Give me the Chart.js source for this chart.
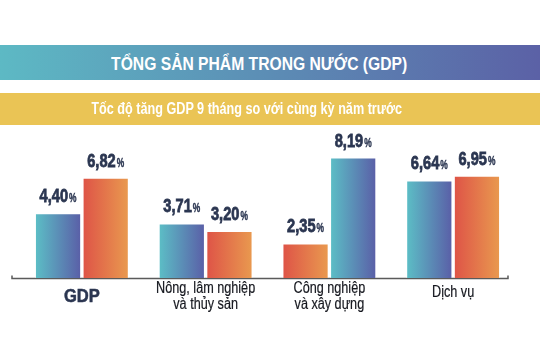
<!DOCTYPE html>
<html>
<head>
<meta charset="utf-8">
<script src="https://cdn.jsdelivr.net/npm/chart.js@4"></script>
<style>
  body { margin: 0; width: 540px; height: 360px; background: #fff; position: relative; overflow: hidden; }
  .banner { position: absolute; left: 0; width: 540px; color: #fff; display: flex; align-items: center; justify-content: center; z-index: 2;
            font-family: 'Liberation Sans', Arial, sans-serif; font-weight: bold; box-sizing: border-box; }
  .banner span { display: inline-block; white-space: nowrap; }
  #title { top: 45px; height: 35px; background: linear-gradient(90deg, #5db9c4, #5b61a6); font-size: 18px; padding-top: 3px; padding-right: 22px; }
  #title span { transform: scaleX(0.87); }
  #subtitle { top: 93px; height: 32px; background: #eac455; font-size: 16px; padding-right: 46px; }
  #subtitle span { transform: scaleX(0.79); }
  canvas { position: absolute; left: 0; top: 0; }
</style>
</head>
<body>
<div id="title" class="banner"><span>TỔNG SẢN PHẨM TRONG NƯỚC (GDP)</span></div>
<div id="subtitle" class="banner"><span>Tốc độ tăng GDP 9 tháng so với cùng kỳ năm trước</span></div>
<canvas id="gdpChart" width="540" height="360"></canvas>
<script>
// du lieu
const categories = [['GDP'], ['Nông, lâm nghiệp', 'và thủy sản'], ['Công nghiệp', 'và xây dựng'], ['Dịch vụ']];
const firstBar = [4.40, 3.71, 2.35, 6.64];
const secondBar = [6.82, 3.20, 8.19, 6.95];
// kieu mau cho tung cot
const firstStyle = ['blue', 'blue', 'orange', 'blue'];
const secondStyle = ['orange', 'orange', 'blue', 'orange'];

const FONT = "'Liberation Sans', Arial, sans-serif";
const gradients = {
    blue: ['#5cbfc6', '#5a5ea7'],
    orange: ['#de5347', '#e99a4f']
};
const CAT_PCT = 0.77;
const BAR_PCT = 0.97;

function barGradient(styles) {
    return (context) => {
        const chart = context.chart;
        const xs = chart.scales.x;
        const colors = gradients[styles[context.dataIndex]];
        if (!chart.chartArea || !xs || context.dataIndex === undefined) return colors[0];
        const center = xs.getPixelForValue(context.dataIndex);
        const slot = xs.width / categories.length * CAT_PCT / 2;
        const mid = center + (context.datasetIndex === 0 ? -slot / 2 : slot / 2);
        const half = slot * BAR_PCT / 2;
        const g = chart.ctx.createLinearGradient(mid - half, 0, mid + half, 0);
        g.addColorStop(0, colors[0]);
        g.addColorStop(1, colors[1]);
        return g;
    };
}

// chu hep (gia lap font narrow)
function narrowText(ctx, text, x, y, sx, stroke) {
    ctx.save();
    ctx.translate(x, y);
    ctx.scale(sx, 1);
    ctx.fillText(text, 0, 0);
    if (stroke) {
        ctx.lineWidth = stroke;
        ctx.strokeStyle = ctx.fillStyle;
        ctx.strokeText(text, 0, 0);
    }
    ctx.restore();
}

// nhan gia tri tren cot
const valueLabels = {
    id: 'valueLabels',
    afterDatasetsDraw(chart) {
        const ctx = chart.ctx;
        const sx = 0.77;
        ctx.save();
        ctx.fillStyle = '#2b3651';
        ctx.textBaseline = 'alphabetic';
        ctx.textAlign = 'left';
        chart.data.datasets.forEach((ds, di) => {
            chart.getDatasetMeta(di).data.forEach((bar, i) => {
                const num = ds.data[i].toFixed(2).replace('.', ',');
                ctx.font = 'bold 19px ' + FONT;
                const w1 = ctx.measureText(num).width * sx;
                ctx.font = 'bold 12px ' + FONT;
                const w2 = ctx.measureText('%').width * 0.7;
                const left = bar.x - (w1 + w2 + 1) / 2;
                const y = bar.y - 11;
                ctx.font = 'bold 19px ' + FONT;
                narrowText(ctx, num, left, y, sx, 0.8);
                ctx.font = 'bold 12px ' + FONT;
                narrowText(ctx, '%', left + w1 + 1, y, 0.7, 0.4);
            });
        });
        ctx.restore();
    }
};

// nhan danh muc duoi truc
const categoryLabels = {
    id: 'categoryLabels',
    afterDraw(chart) {
        const ctx = chart.ctx;
        const xs = chart.scales.x;
        const base = chart.chartArea.bottom;
        ctx.save();
        ctx.textAlign = 'center';
        ctx.textBaseline = 'alphabetic';
        categories.forEach((lines, i) => {
            const x = xs.getPixelForValue(i);
            if (i === 0) {
                ctx.fillStyle = '#2b3651';
                ctx.font = 'bold 18px ' + FONT;
                narrowText(ctx, lines[0], x, base + 24, 0.92, 0.5);
                return;
            }
            ctx.fillStyle = '#16181f';
            ctx.font = '16px ' + FONT;
            if (lines.length === 1) {
                narrowText(ctx, lines[0], x, base + 19, 0.79, 0.2);
            } else {
                lines.forEach((t, k) => narrowText(ctx, t, x, base + 15 + k * 16, 0.79, 0.2));
            }
        });
        ctx.restore();
    }
};

// duong truc ngang
const baseLine = {
    id: 'baseLine',
    beforeDatasetsDraw(chart) {
        const ctx = chart.ctx;
        const y = chart.scales.y.getPixelForValue(0) + 0.5;
        const x0 = chart.chartArea.left - 8;
        const x1 = chart.chartArea.right - 7;
        ctx.save();
        ctx.strokeStyle = '#5a5a5a';
        ctx.lineWidth = 1.5;
        ctx.beginPath();
        ctx.moveTo(x0, y - 3);
        ctx.lineTo(x0, y);
        ctx.lineTo(x1, y);
        ctx.lineTo(x1, y - 3);
        ctx.stroke();
        ctx.restore();
    }
};

const ctx = document.getElementById('gdpChart').getContext('2d');
new Chart(ctx, {
    type: 'bar',
    data: {
        labels: categories,
        datasets: [{
            data: firstBar,
            backgroundColor: barGradient(firstStyle),
            borderColor: 'rgba(255,255,255,0.35)',
            borderWidth: 1,
            categoryPercentage: CAT_PCT,
            barPercentage: BAR_PCT
        }, {
            data: secondBar,
            backgroundColor: barGradient(secondStyle),
            borderColor: 'rgba(255,255,255,0.35)',
            borderWidth: 1,
            categoryPercentage: CAT_PCT,
            barPercentage: BAR_PCT
        }]
    },
    options: {
        responsive: false,
        animation: false,
        layout: { padding: { top: 131, left: 20, right: 25, bottom: 0 } },
        plugins: { legend: { display: false }, tooltip: { enabled: false } },
        scales: {
            y: { display: false, min: 0, max: 10 },
            x: {
                grid: { display: false },
                border: { display: false },
                ticks: { display: false },
                afterFit: (scale) => { scale.height = 82; }
            }
        }
    },
    plugins: [baseLine, valueLabels, categoryLabels]
});
</script>
</body>
</html>
